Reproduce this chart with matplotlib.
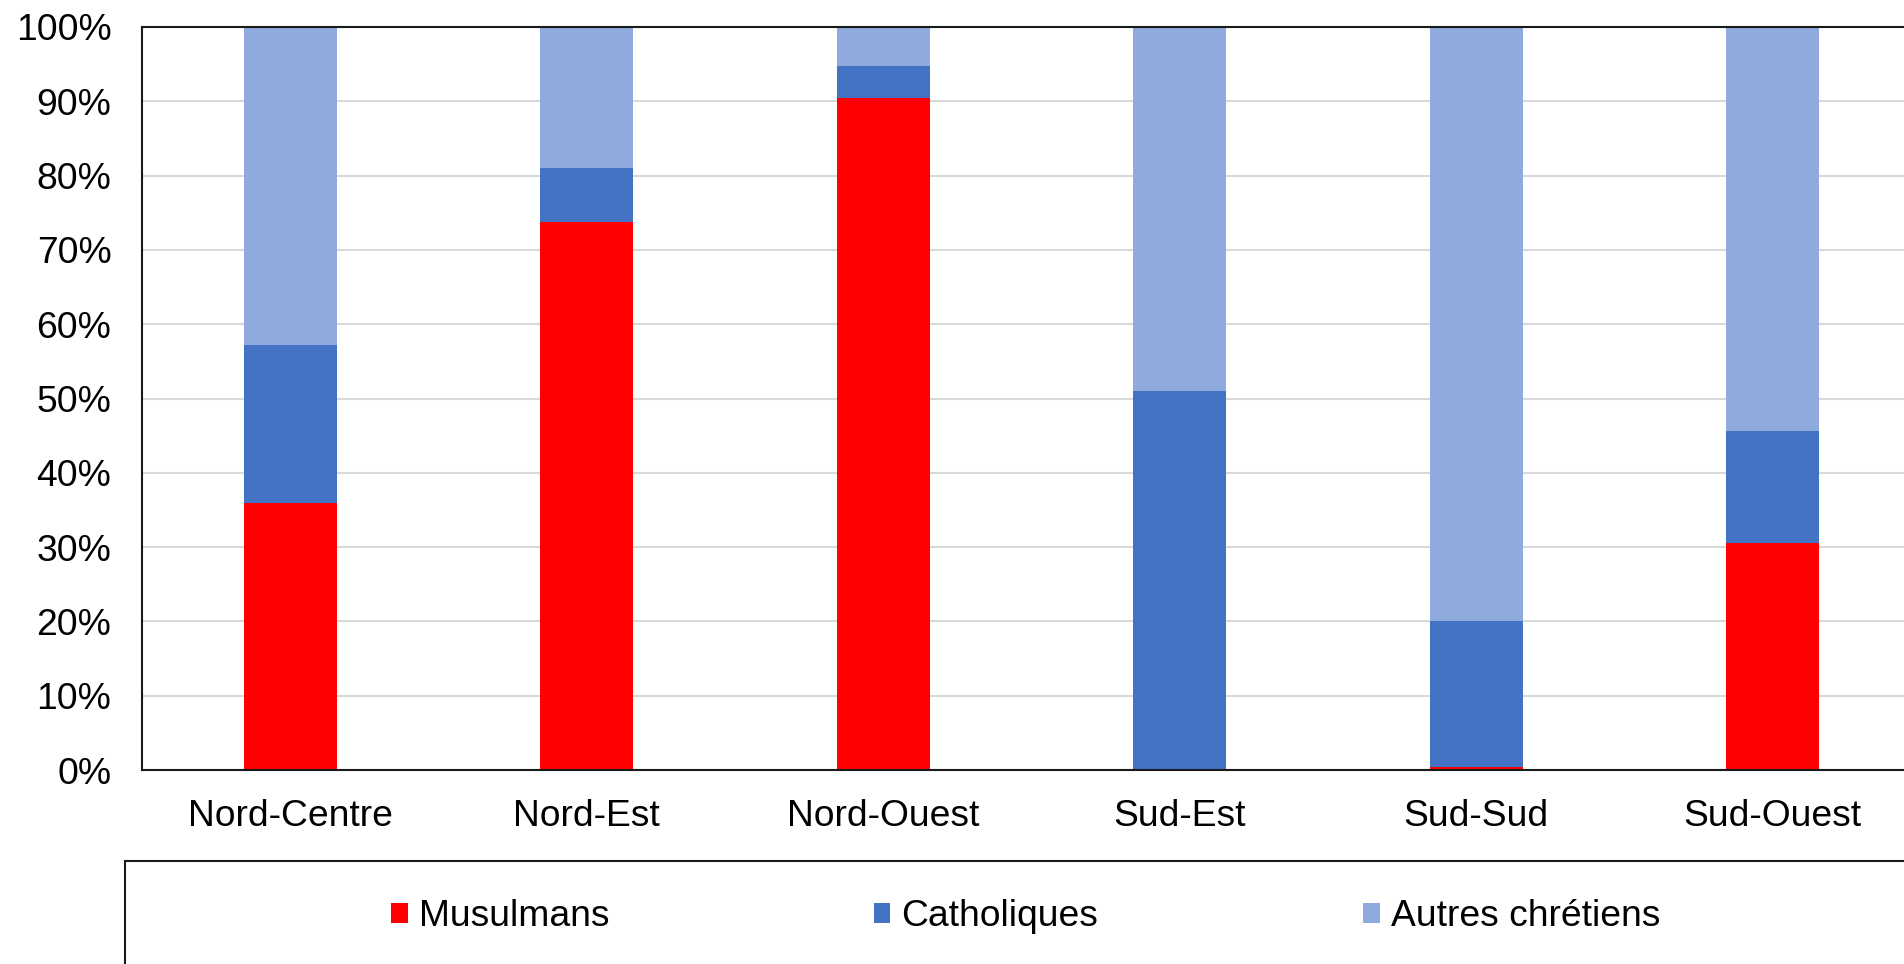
import matplotlib
matplotlib.use("Agg")
import matplotlib.pyplot as plt
import numpy as np
from matplotlib.patches import Patch, Rectangle
from matplotlib.ticker import FuncFormatter, MultipleLocator

plt.rcParams['font.family'] = ['Liberation Sans', 'DejaVu Sans']

# data (shares in %)
regions = ['Nord-Centre', 'Nord-Est', 'Nord-Ouest', 'Sud-Est', 'Sud-Sud', 'Sud-Ouest']
musulmans = [36.0, 73.8, 90.5, 0.0, 0.4, 30.6]
catholiques = [21.2, 7.2, 4.2, 51.0, 19.6, 15.0]
autres_chretiens = [42.8, 19.0, 5.3, 49.0, 80.0, 54.4]

series = [
    ('Musulmans', musulmans, '#FF0000'),
    ('Catholiques', catholiques, '#4472C4'),
    ('Autres chrétiens', autres_chretiens, '#8FAADC'),
]

W, H = 1904, 964
fig = plt.figure(figsize=(W / 100, H / 100), dpi=100)

# axes box in pixels: left 142, top 27, bottom 770; right runs off the figure
left, top, bottom = 142, 27, 770
right = 142 + 6 * 296.5
ax = fig.add_axes([left / W, 1 - bottom / H, (right - left) / W, (bottom - top) / H])

x = np.arange(len(regions))
base = np.zeros(len(regions))
for name, vals, color in series:
    vals = np.array(vals)
    ax.bar(x, vals, width=0.315, bottom=base, color=color, label=name, zorder=3)
    base += vals

ax.set_xlim(-0.5, len(regions) - 0.5)
ax.set_ylim(0, 100)
ax.yaxis.set_major_locator(MultipleLocator(10))
ax.yaxis.set_major_formatter(FuncFormatter(lambda v, p: f'{v:.0f}%'))
ax.set_xticks(x)
ax.set_xticklabels(regions)
ax.tick_params(axis='y', length=0, pad=22, labelsize=26.8)
ax.tick_params(axis='x', length=0, pad=21, labelsize=26.8)
ax.grid(axis='y', color='#D9D9D9', linewidth=1.5, zorder=0)
ax.set_axisbelow(True)
for s in ax.spines.values():
    s.set_color('#1a1a1a')
    s.set_linewidth(1.5)
    s.set_zorder(4)

# legend box (runs off the right and bottom edges)
fig.patches.append(Rectangle((125 / W, -0.05), 1.0, 1 - 861 / H + 0.05,
                             transform=fig.transFigure, fill=False,
                             edgecolor='#1a1a1a', linewidth=1.5))
handles = [Patch(facecolor=c, edgecolor='none') for _, _, c in series]
fig.legend(handles, [n for n, _, _ in series], loc='center left',
           bbox_to_anchor=(391 / W, 1 - 917 / H), ncol=3, frameon=False,
           fontsize=26.8, handlelength=0.45, handleheight=0.45,
           handletextpad=0.3, columnspacing=7.1, borderpad=0, borderaxespad=0)

fig.savefig('out.png', dpi=100)
